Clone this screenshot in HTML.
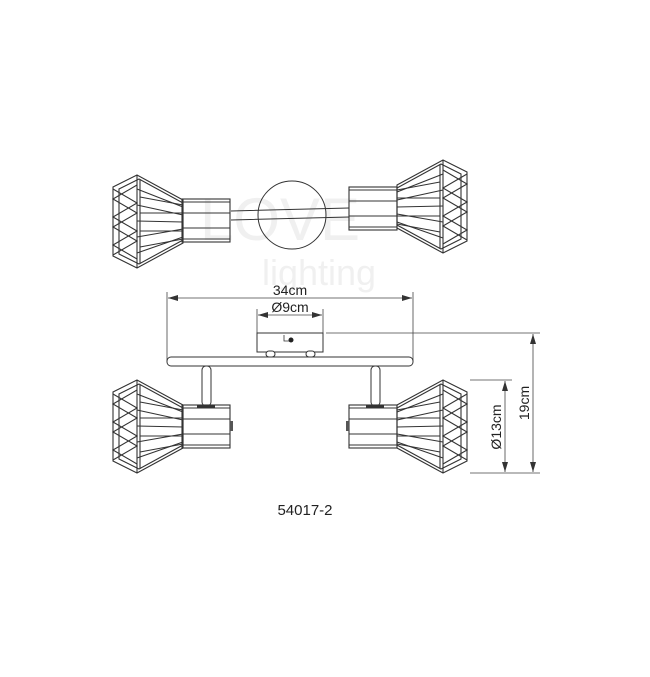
<!DOCTYPE html>
<html><head><meta charset="utf-8"><style>
html,body{margin:0;padding:0;background:#fff;}
svg{display:block;}
text{font-family:"Liberation Sans",sans-serif;fill:#222;}
</style></head><body>
<svg width="650" height="677" viewBox="0 0 650 677" xmlns="http://www.w3.org/2000/svg">
<defs>
<marker id="ar" viewBox="0 0 10 6" refX="10" refY="3" markerWidth="10" markerHeight="6" orient="auto-start-reverse" markerUnits="userSpaceOnUse"><path d="M0,0 L10,3 L0,6 z" fill="#333"/></marker>
<g id="cage" fill="none" stroke="#333" stroke-width="1.1">
<polygon points="70,25 24,0 0,12 0,81 24,93 70,68"/>
<polygon points="70,28 26,4 6,14 6,79 26,89 70,65"/>
<line x1="24" y1="0" x2="24" y2="93"/><line x1="27" y1="4" x2="27" y2="89"/>
<path d="M0,14 L24,28 L0,42 L24,56 L0,70 L24,84"/>
<path d="M24,10 L0,24 L24,38 L0,52 L24,66 L0,80"/>
<path d="M24,14 L70,32 M24,30 L70,40 M24,46 L70,47 M24,62 L70,54 M24,78 L70,62"/>
<path d="M27,22 L70,30 M27,38 L70,38 M27,56 L70,56 M27,72 L70,64"/>
</g>
<g id="cyl" fill="none" stroke="#333" stroke-width="1.1">
<rect x="0" y="0" width="48" height="43"/>
<line x1="0" y1="3" x2="48" y2="3"/><line x1="0" y1="14" x2="48" y2="14"/>
<line x1="0" y1="29" x2="48" y2="29"/><line x1="0" y1="40" x2="48" y2="40"/>
</g>
</defs>

<!-- watermark -->
<text x="200" y="240" font-size="60" style="fill:#f0f0f0">LOVE</text>
<text x="262" y="285" font-size="36" style="fill:#f0f0f0">lighting</text>

<!-- TOP VIEW -->
<use href="#cage" transform="translate(113,175)"/>
<use href="#cyl" transform="translate(182,199)"/>
<circle cx="292" cy="215" r="34" fill="none" stroke="#333" stroke-width="1"/>
<path d="M231,211 L349,208 M231,220 L349,217" stroke="#333" stroke-width="1" fill="none"/>
<use href="#cyl" transform="translate(349,187)"/>
<use href="#cage" transform="translate(467,160) scale(-1,1)"/>

<!-- dims -->
<g stroke="#444" stroke-width="0.8" fill="none">
<line x1="167" y1="292" x2="167" y2="362"/><line x1="413" y1="292" x2="413" y2="362"/>
<line x1="168" y1="298" x2="412" y2="298" marker-start="url(#ar)" marker-end="url(#ar)"/>
<line x1="257" y1="309" x2="257" y2="333"/><line x1="323" y1="309" x2="323" y2="333"/>
<line x1="258" y1="315" x2="322" y2="315" marker-start="url(#ar)" marker-end="url(#ar)"/>
<line x1="326" y1="333" x2="540" y2="333"/>
<line x1="470" y1="380" x2="512" y2="380"/>
<line x1="470" y1="473" x2="540" y2="473"/>
<line x1="533" y1="334" x2="533" y2="472" marker-start="url(#ar)" marker-end="url(#ar)"/>
<line x1="505" y1="381" x2="505" y2="472" marker-start="url(#ar)" marker-end="url(#ar)"/>
</g>
<text x="290" y="295" font-size="14" text-anchor="middle">34cm</text>
<text x="290" y="312" font-size="14" text-anchor="middle">Ø9cm</text>
<text transform="translate(529,403) rotate(-90)" font-size="14" text-anchor="middle">19cm</text>
<text transform="translate(501,427) rotate(-90)" font-size="14" text-anchor="middle">Ø13cm</text>

<!-- FRONT VIEW -->
<g stroke="#333" stroke-width="1" fill="#fff">
<rect x="257" y="333" width="66" height="19"/>
<rect x="266" y="351" width="9" height="6" rx="3"/><rect x="306" y="351" width="9" height="6" rx="3"/>
<rect x="167" y="357" width="246" height="9" rx="4"/>
<rect x="202" y="366" width="9" height="40" rx="4"/>
<rect x="371" y="366" width="9" height="40" rx="4"/>
</g>
<circle cx="291" cy="340" r="2.5" fill="#222"/>
<path d="M284,335 L284,341 L289,341" stroke="#333" stroke-width="0.8" fill="none"/>
<rect x="197" y="405" width="18" height="3" fill="#333"/>
<rect x="366" y="405" width="18" height="3" fill="#333"/>
<use href="#cage" transform="translate(113,380)"/>
<use href="#cyl" transform="translate(182,405)"/>
<use href="#cyl" transform="translate(349,405)"/>
<use href="#cage" transform="translate(467,380) scale(-1,1)"/>
<rect x="230" y="421" width="3" height="10" fill="#555"/>
<rect x="346" y="421" width="3" height="10" fill="#555"/>

<text x="305" y="515" font-size="15" text-anchor="middle">54017-2</text>
</svg>
</body></html>
